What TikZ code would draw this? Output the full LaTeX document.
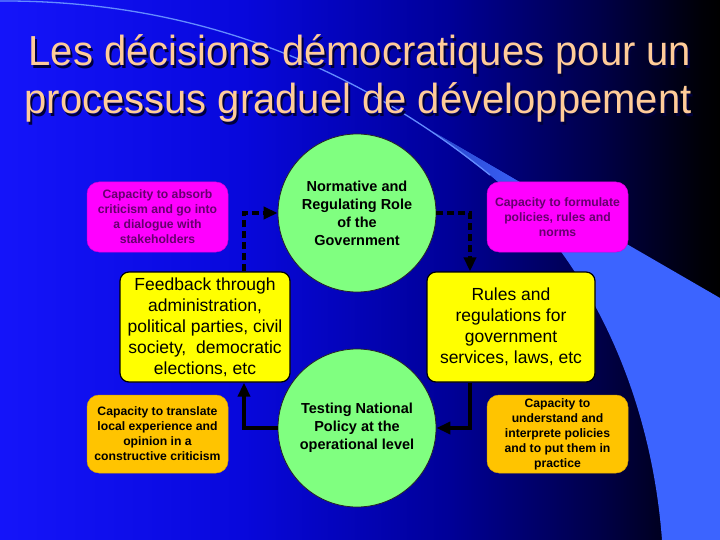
\documentclass[tikz,border=0pt]{standalone}
\usepackage{fontspec}
\setmainfont{Liberation Sans}
\usetikzlibrary{arrows.meta}
\definecolor{titlecol}{RGB}{255,204,153}
\definecolor{titleshadow}{RGB}{0,0,60}
\definecolor{circgreen}{RGB}{128,255,128}
\definecolor{boxyellow}{RGB}{255,255,0}
\definecolor{boxmag}{RGB}{255,0,255}
\definecolor{magtext}{RGB}{102,0,110}
\definecolor{boxorange}{RGB}{255,196,0}
\definecolor{bandblue}{RGB}{60,100,255}
\definecolor{bandmid}{RGB}{40,70,200}
\definecolor{linelight}{RGB}{100,140,255}
\pgfdeclarehorizontalshading{bgshade}{100bp}{rgb(0bp)=(0.08,0.08,0.98); rgb(25bp)=(0.08,0.08,0.98); rgb(42bp)=(0.03,0.03,0.86); rgb(56bp)=(0,0,0.6); rgb(66.7bp)=(0,0,0.28); rgb(73.6bp)=(0,0,0.03); rgb(75bp)=(0,0,0); rgb(100bp)=(0,0,0)}
\newcommand{\shadowtext}[1]{\makebox[0pt][l]{\kern2pt\raisebox{-2pt}{\color{titleshadow}#1}}#1}
\begin{document}
\begin{tikzpicture}[x=1pt,y=-1pt,
  circnode/.style={circle, fill=circgreen, draw=black!85, line width=0.8pt, minimum size=158pt, inner sep=0pt, align=center, text=black, font=\fontsize{14.5}{18}\selectfont\bfseries},
  ybox/.style={rectangle, rounded corners=9pt, fill=boxyellow, draw=black, line width=1.2pt, minimum height=110pt, inner sep=2pt, align=center, text=black, font=\fontsize{17.5}{21}\selectfont},
  mbox/.style={rectangle, rounded corners=12pt, fill=boxmag, draw=boxmag!85!black, line width=0.5pt, minimum width=141pt, minimum height=70pt, inner sep=1pt, align=center, text=magtext, font=\fontsize{12.2}{15}\selectfont\bfseries},
  obox/.style={rectangle, rounded corners=12pt, fill=boxorange, draw=boxorange!85!black, line width=0.5pt, minimum width=141pt, minimum height=78pt, inner sep=1pt, align=center, text=black, font=\fontsize{12.2}{15}\selectfont\bfseries},
  conn/.style={line width=3.5pt, draw=black, -{Triangle[length=14pt,width=12pt]}},
  dashconn/.style={conn, dash pattern=on 7pt off 4pt},
  titletext/.style={anchor=base, text=titlecol, font=\fontsize{40}{45}\selectfont}
]
\useasboundingbox (0,0) rectangle (720,540);
% background
\shade[shading=bgshade] (0,0) rectangle (720,540);
% decorative band
\fill[bandblue] (440,136) -- (720,298) -- (720,540) -- (662,540)
  .. controls (650,380) and (580,250) .. (490,175)
  .. controls (470,160) and (455,148) .. (440,136) -- cycle;
\shade[left color=bandmid, right color=bandblue] (432,131) -- (535,191) -- (510,190) -- (490,175) .. controls (470,160) and (455,148) .. (432,131) -- cycle;
\draw[linelight, line width=1.3pt] (0,1) .. controls (200,0) and (360,70) .. (490,175);
% title
\node[titletext] (t1) at (360,66) {\scalebox{1}[1.05]{\shadowtext{Les décisions démocratiques pour un}}};
\node[titletext] (t2) at (358,114) {\scalebox{1}[1.05]{\shadowtext{processus graduel de développement}}};
% nodes
\node[circnode] (topc) at (357,213) {Normative and\\Regulating Role\\of the\\Government};
\node[circnode] (botc) at (357,428) {Testing National\\Policy at the\\operational level};
\node[ybox, minimum width=170pt] (lyel) at (205,327) {Feedback through\\administration,\\political parties, civil\\society,\ \ democratic\\elections, etc};
\node[ybox, minimum width=168pt] (ryel) at (511,327) {Rules and\\regulations for\\government\\services, laws, etc};
\node[mbox] (tlm) at (157.5,217) {Capacity to absorb\\criticism and go into\\a dialogue with\\stakeholders};
\node[mbox] (trm) at (557.5,217) {Capacity to formulate\\policies, rules and\\norms};
\node[obox] (blo) at (157.5,434) {Capacity to translate\\local experience and\\opinion in a\\constructive criticism};
\node[obox] (bro) at (557.5,434) {Capacity to\\understand and\\interprete policies\\and to put them in\\practice};
% connectors
\draw[dashconn] ([xshift=39pt]lyel.north) |- (topc.west);
\draw[dashconn] (topc.east) -| ([xshift=-41pt]ryel.north);
\draw[conn] ([xshift=-41pt]ryel.south) |- (botc.east);
\draw[conn] (botc.west) -| ([xshift=39pt]lyel.south);
\end{tikzpicture}
\end{document}
